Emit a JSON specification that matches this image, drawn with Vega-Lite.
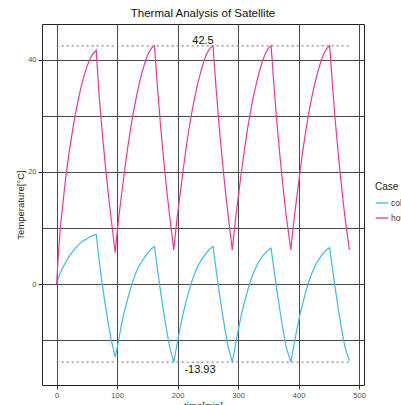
{
  "$schema": "https://vega.github.io/schema/vega-lite/v6.json",
  "autosize": "none",
  "width": 322,
  "height": 361,
  "padding": {"left": 42, "top": 24, "right": 37, "bottom": 20},
  "background": "white",
  "title": {"text": "Thermal Analysis of Satellite", "fontSize": 11.5, "fontWeight": "normal", "color": "#111", "offset": 5, "font": "Liberation Sans"},
  "config": {
    "font": "Liberation Sans",
    "view": {"stroke": "#222", "strokeWidth": 1},
    "axis": {"labelFont": "Liberation Sans", "titleFont": "Liberation Sans", "labelColor": "#4d4d4d", "labelFontSize": 7.5, "titleFontSize": 9.5, "titleFontWeight": "normal", "titleColor": "#222", "domain": false, "gridColor": "#4a4a4a", "gridWidth": 1, "gridOpacity": 1, "tickColor": "#333", "tickSize": 4, "labelPadding": 2}
  },
  "datasets": {
    "temps": [
      {"time": 0, "hot": 0, "cold": 0},
      {"time": 3, "hot": 5.5, "cold": 1.1},
      {"time": 6, "hot": 10, "cold": 2},
      {"time": 10, "hot": 14, "cold": 2.9},
      {"time": 15, "hot": 19, "cold": 3.9},
      {"time": 20, "hot": 23, "cold": 4.8},
      {"time": 25, "hot": 26.5, "cold": 5.6},
      {"time": 30, "hot": 29.8, "cold": 6.3},
      {"time": 35, "hot": 32.5, "cold": 6.9},
      {"time": 40, "hot": 35, "cold": 7.4},
      {"time": 45, "hot": 37, "cold": 7.8},
      {"time": 50, "hot": 38.8, "cold": 8.1},
      {"time": 55, "hot": 40.1, "cold": 8.4},
      {"time": 60, "hot": 41.1, "cold": 8.7},
      {"time": 65.5, "hot": 41.7, "cold": 8.9},
      {"time": 70, "hot": 34, "cold": 4.5},
      {"time": 75, "hot": 27.5, "cold": 0.3},
      {"time": 80, "hot": 21.8, "cold": -3.4},
      {"time": 85, "hot": 16.5, "cold": -6.8},
      {"time": 90, "hot": 11.8, "cold": -9.8},
      {"time": 96.8, "hot": 5.6, "cold": -13.0},
      {"time": 99.8, "hot": 9, "cold": -11.5},
      {"time": 102.8, "hot": 12, "cold": -9.8},
      {"time": 106.8, "hot": 15.5, "cold": -7.5},
      {"time": 111.8, "hot": 19.8, "cold": -5},
      {"time": 116.8, "hot": 23.8, "cold": -2.9},
      {"time": 121.8, "hot": 27.4, "cold": -1.0},
      {"time": 126.8, "hot": 30.6, "cold": 0.8},
      {"time": 131.8, "hot": 33.4, "cold": 2.2},
      {"time": 136.8, "hot": 35.9, "cold": 3.3},
      {"time": 141.8, "hot": 38, "cold": 4.2},
      {"time": 146.8, "hot": 39.8, "cold": 5.0},
      {"time": 151.8, "hot": 41.2, "cold": 5.7},
      {"time": 156.8, "hot": 42.1, "cold": 6.3},
      {"time": 161.8, "hot": 42.5, "cold": 6.7},
      {"time": 166.8, "hot": 35, "cold": 2.6},
      {"time": 171.8, "hot": 28.3, "cold": -1.3},
      {"time": 176.8, "hot": 22.4, "cold": -4.9},
      {"time": 181.8, "hot": 17, "cold": -8.2},
      {"time": 186.8, "hot": 12.2, "cold": -11.2},
      {"time": 193.6, "hot": 6.1, "cold": -13.93},
      {"time": 196.6, "hot": 9.2, "cold": -12.2},
      {"time": 199.6, "hot": 12.2, "cold": -10.4},
      {"time": 203.6, "hot": 15.6, "cold": -8.1},
      {"time": 208.6, "hot": 19.9, "cold": -5.5},
      {"time": 213.6, "hot": 23.9, "cold": -3.3},
      {"time": 218.6, "hot": 27.5, "cold": -1.3},
      {"time": 223.6, "hot": 30.7, "cold": 0.5},
      {"time": 228.6, "hot": 33.5, "cold": 2},
      {"time": 233.6, "hot": 35.9, "cold": 3.2},
      {"time": 238.6, "hot": 38, "cold": 4.2},
      {"time": 243.6, "hot": 39.8, "cold": 5},
      {"time": 248.6, "hot": 41.2, "cold": 5.7},
      {"time": 253.6, "hot": 42.1, "cold": 6.3},
      {"time": 258.6, "hot": 42.5, "cold": 6.7},
      {"time": 263.6, "hot": 35, "cold": 2.6},
      {"time": 268.6, "hot": 28.3, "cold": -1.3},
      {"time": 273.6, "hot": 22.4, "cold": -4.9},
      {"time": 278.6, "hot": 17, "cold": -8.2},
      {"time": 283.6, "hot": 12.2, "cold": -11.2},
      {"time": 290.4, "hot": 6.1, "cold": -13.93},
      {"time": 293.4, "hot": 9.2, "cold": -12.2},
      {"time": 296.4, "hot": 12.2, "cold": -10.4},
      {"time": 300.4, "hot": 15.6, "cold": -8.1},
      {"time": 305.4, "hot": 19.9, "cold": -5.5},
      {"time": 310.4, "hot": 23.9, "cold": -3.3},
      {"time": 315.4, "hot": 27.5, "cold": -1.3},
      {"time": 320.4, "hot": 30.7, "cold": 0.5},
      {"time": 325.4, "hot": 33.5, "cold": 2},
      {"time": 330.4, "hot": 35.9, "cold": 3.2},
      {"time": 335.4, "hot": 38, "cold": 4.2},
      {"time": 340.4, "hot": 39.8, "cold": 5},
      {"time": 345.4, "hot": 41.2, "cold": 5.6},
      {"time": 350.4, "hot": 42.1, "cold": 6.1},
      {"time": 354.6, "hot": 42.5, "cold": 6.4},
      {"time": 359.6, "hot": 35, "cold": 2.4},
      {"time": 364.6, "hot": 28.3, "cold": -1.4},
      {"time": 369.6, "hot": 22.4, "cold": -5},
      {"time": 374.6, "hot": 17, "cold": -8.3},
      {"time": 379.6, "hot": 12.2, "cold": -11.3},
      {"time": 387.2, "hot": 6.1, "cold": -13.93},
      {"time": 390.2, "hot": 9.2, "cold": -12.2},
      {"time": 393.2, "hot": 12.2, "cold": -10.4},
      {"time": 397.2, "hot": 15.6, "cold": -8.1},
      {"time": 402.2, "hot": 19.9, "cold": -5.5},
      {"time": 407.2, "hot": 23.9, "cold": -3.3},
      {"time": 412.2, "hot": 27.5, "cold": -1.3},
      {"time": 417.2, "hot": 30.7, "cold": 0.5},
      {"time": 422.2, "hot": 33.5, "cold": 2},
      {"time": 427.2, "hot": 35.9, "cold": 3.2},
      {"time": 432.2, "hot": 38, "cold": 4.2},
      {"time": 437.2, "hot": 39.8, "cold": 5},
      {"time": 442.2, "hot": 41.2, "cold": 5.7},
      {"time": 447.2, "hot": 42.1, "cold": 6.2},
      {"time": 451.4, "hot": 42.5, "cold": 6.5},
      {"time": 456.4, "hot": 35, "cold": 2.5},
      {"time": 461.4, "hot": 28.3, "cold": -1.3},
      {"time": 466.4, "hot": 22.4, "cold": -4.9},
      {"time": 471.4, "hot": 17, "cold": -8.2},
      {"time": 476.4, "hot": 12.2, "cold": -11.1},
      {"time": 484, "hot": 6.1, "cold": -13.7}
    ],
    "refs": [
      {"level": 42.5, "label": "42.5", "start": 0, "end": 484, "labelAt": 242, "side": "top"},
      {"level": -13.93, "label": "-13.93", "start": 0, "end": 484, "labelAt": 237, "side": "bottom"}
    ]
  },
  "layer": [
    {
      "data": {"name": "refs"},
      "mark": {"type": "rule", "color": "#8a8a8a", "strokeWidth": 1.2, "strokeDash": [2, 3]},
      "encoding": {
        "x": {"field": "start", "type": "quantitative", "title": "time[min]"},
        "x2": {"field": "end"},
        "y": {"field": "level", "type": "quantitative", "title": "Temperature[°C]"}
      }
    },
    {
      "data": {"name": "temps"},
      "transform": [{"fold": ["cold", "hot"], "as": ["Case", "temp"]}],
      "mark": {"type": "line", "strokeWidth": 1.2},
      "encoding": {
        "x": {
          "field": "time", "type": "quantitative", "title": "time[min]",
          "scale": {"domain": [-24.2, 508.2], "nice": false, "zero": false},
          "axis": {
            "values": [0, 50, 100, 150, 200, 250, 300, 350, 400, 450, 500],
            "labelExpr": "datum.value % 100 === 0 ? datum.label : ''",
            "tickOpacity": {"condition": {"test": "datum.value % 100 === 0", "value": 1}, "value": 0},
            "titlePadding": 2
          }
        },
        "y": {
          "field": "temp", "type": "quantitative", "title": "Temperature[°C]",
          "scale": {"domain": [-18, 46.4], "nice": false, "zero": false},
          "axis": {
            "values": [-10, 0, 10, 20, 30, 40],
            "labelExpr": "datum.value % 20 === 0 ? datum.label : ''",
            "tickOpacity": {"condition": {"test": "datum.value % 20 === 0", "value": 1}, "value": 0},
            "titlePadding": 2
          }
        },
        "color": {
          "field": "Case", "type": "nominal",
          "scale": {"domain": ["cold", "hot"], "range": ["#3fb8ea", "#e8399a"]},
          "legend": {
            "orient": "none", "legendX": 333, "legendY": 158,
            "title": "Case", "titleFontSize": 10, "titleFontWeight": "normal", "titleColor": "#222", "titlePadding": 4,
            "symbolType": "stroke", "symbolSize": 160, "symbolStrokeWidth": 1.3,
            "labelFontSize": 8.5, "labelColor": "#333", "labelOffset": 2, "rowPadding": 3
          }
        }
      }
    },
    {
      "data": {"name": "refs"},
      "transform": [{"filter": "datum.side === 'top'"}],
      "mark": {"type": "text", "baseline": "alphabetic", "dy": -1.5, "fontSize": 11, "color": "#111"},
      "encoding": {
        "x": {"field": "labelAt", "type": "quantitative", "title": "time[min]"},
        "y": {"field": "level", "type": "quantitative", "title": "Temperature[°C]"},
        "text": {"field": "label"}
      }
    },
    {
      "data": {"name": "refs"},
      "transform": [{"filter": "datum.side === 'bottom'"}],
      "mark": {"type": "text", "baseline": "top", "dy": 2, "fontSize": 11, "color": "#111"},
      "encoding": {
        "x": {"field": "labelAt", "type": "quantitative", "title": "time[min]"},
        "y": {"field": "level", "type": "quantitative", "title": "Temperature[°C]"},
        "text": {"field": "label"}
      }
    }
  ]
}
